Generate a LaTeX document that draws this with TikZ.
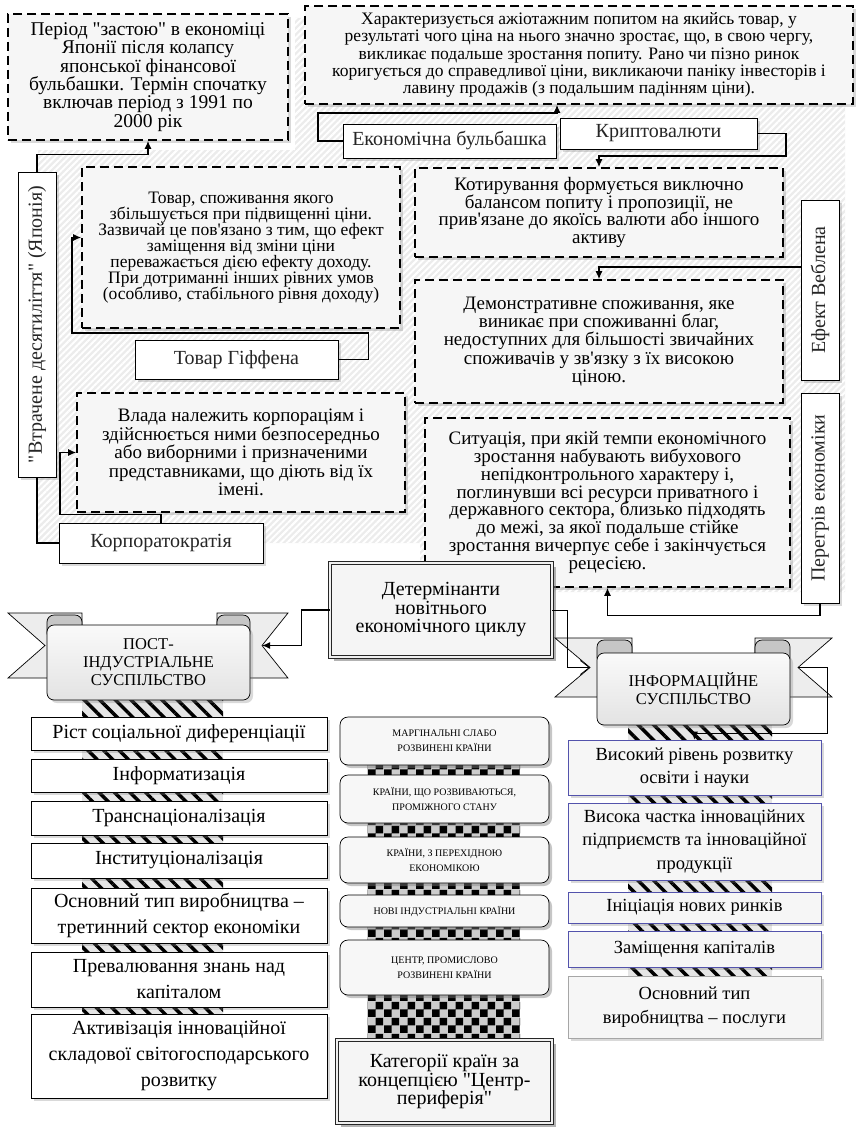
\documentclass[tikz,border=0pt]{standalone}
\usepackage{fontspec}
\setmainfont{Liberation Serif}[Ligatures=TeXOff]
\usetikzlibrary{arrows.meta,shadows,patterns,patterns.meta}
\lineskiplimit=-\maxdimen
\pgfdeclarepatternformonly{chess}{\pgfpointorigin}{\pgfqpoint{16pt}{16pt}}{\pgfqpoint{16pt}{16pt}}{%
  \pgfpathrectangle{\pgfpointorigin}{\pgfqpoint{8pt}{8pt}}%
  \pgfpathrectangle{\pgfqpoint{8pt}{8pt}}{\pgfqpoint{8pt}{8pt}}%
  \pgfusepath{fill}}

\begin{document}
\begin{tikzpicture}[x=1pt,y=-1pt,>={Latex[length=8pt,width=7pt]},
  every node/.style={align=center,inner sep=2pt},
  shd/.style={drop shadow={shadow xshift=3pt,shadow yshift=-3pt,opacity=.3}},
  dashbox/.style={draw,line width=1.6pt,dash pattern=on 9pt off 5pt,fill=gray!7,shd},
  tagbox/.style={draw,line width=.6pt,fill=white,text=black!85,shd,font=\fontsize{20}{20}\selectfont},
  vtag/.style={tagbox,rotate=90,minimum height=38pt},
  itembox/.style={draw,line width=.7pt,fill=white,minimum width=296pt,shd,font=\fontsize{20}{26}\selectfont},
  ctrybox/.style={draw,line width=.7pt,rounded corners=8pt,fill=gray!6,minimum width=209pt,
    drop shadow={shadow xshift=3pt,shadow yshift=-3pt,opacity=.45},font=\fontsize{10}{15}\selectfont},
  bluebox/.style={draw=blue!35!gray,line width=.7pt,fill=gray!7,minimum width=253pt,shd,
    font=\fontsize{18.5}{23.5}\selectfont},
  bevelbox/.style={draw=black!85,line width=.8pt,double=gray!12,double distance=2.5pt,fill=gray!8,
    drop shadow={shadow xshift=4pt,shadow yshift=-4pt,opacity=.6},font=\fontsize{20}{18.5}\selectfont},
  bandbox/.style={draw,line width=.7pt,rounded corners=7pt,top color=gray!4,bottom color=gray!22,
    shd,font=\fontsize{16.5}{18}\selectfont},
  tail/.style={draw,line width=.7pt,fill=gray!14},
  fold/.style={draw,line width=.7pt,fill=gray!45,rounded corners=7pt},
  conn/.style={line width=1.3pt},
  lconn/.style={line width=.8pt}]
\useasboundingbox (0,0) rectangle (859,1129);
\fill[gray!15,postaction={pattern={Lines[angle=45,distance=4.5pt,line width=2pt]},pattern color=white}]
  (38,150) -- (295,150) -- (295,18) -- (845,18) -- (845,592) -- (420,592) -- (420,543) -- (38,543) -- cycle;
\path[fill=gray!20,postaction={pattern={Lines[angle=-45,distance=11pt,line width=3.5pt]},pattern color=black}] (82,700) rectangle (223,1014);
\path[fill=gray!20,postaction={pattern={Lines[angle=-45,distance=11pt,line width=3.5pt]},pattern color=black}] (628,722) rectangle (772,976);
\path[fill=gray!40,postaction={pattern=chess,pattern color=black}] (367,760) rectangle (520,1040);

\node[dashbox,minimum width=280pt,minimum height=126pt,font=\fontsize{19.5}{18.3}\selectfont] (A) at (148,77)
  {Період "застою" в економіці\\Японії після колапсу\\японської фінансової\\бульбашки. Термін спочатку\\включав період з 1991 по\\2000 рік};
\node[dashbox,minimum width=548pt,minimum height=98pt,font=\fontsize{17.5}{17.2}\selectfont] (B) at (579,55)
  {Характеризується ажіотажним попитом на якийсь товар, у\\результаті чого ціна на нього значно зростає, що, в свою чергу,\\викликає подальше зростання попиту. Рано чи пізно ринок\\коригується до справедливої ціни, викликаючи паніку інвесторів і\\лавину продажів (з подальшим падінням ціни).};
\node[tagbox,minimum width=213pt,minimum height=34pt] (bubble) at (449.5,141) {Економічна бульбашка};
\node[tagbox,minimum width=197pt,minimum height=31pt] (crypto) at (658.5,133.5) {Криптовалюти};
\node[dashbox,minimum width=368pt,minimum height=89pt,font=\fontsize{19}{17.8}\selectfont] (C) at (599,212.5)
  {Котирування формується виключно\\балансом попиту і пропозиції, не\\прив'язане до якоїсь валюти або іншого\\активу};
\node[dashbox,minimum width=368pt,minimum height=123pt,font=\fontsize{19}{18.3}\selectfont] (D) at (599,341.5)
  {Демонстративне споживання, яке\\виникає при споживанні благ,\\недоступних для більшості звичайних\\споживачів у зв'язку з їх високою\\ціною.};
\node[dashbox,minimum width=365pt,minimum height=169pt,font=\fontsize{19}{17.8}\selectfont] (E) at (607.5,502.5)
  {Ситуація, при якій темпи економічного\\зростання набувають вибухового\\непідконтрольного характеру і,\\поглинувши всі ресурси приватного і\\державного сектора, близько підходять\\до межі, за якої подальше стійке\\зростання вичерпує себе і закінчується\\рецесією.};
\node[dashbox,minimum width=318pt,minimum height=161pt,font=\fontsize{17.5}{16}\selectfont] (F) at (241,247.5)
  {Товар, споживання якого\\збільшується при підвищенні ціни.\\Зазвичай це пов'язано з тим, що ефект\\заміщення від зміни ціни\\переважається дією ефекту доходу.\\При дотриманні інших рівних умов\\(особливо, стабільного рівня доходу)};
\node[tagbox,minimum width=203pt,minimum height=39pt] (giffen) at (236.5,359.5) {Товар Гіффена};
\node[dashbox,minimum width=328pt,minimum height=119pt,font=\fontsize{19}{18.5}\selectfont] (G) at (241,452.5)
  {Влада належить корпораціям і\\здійснюється ними безпосередньо\\або виборними і призначеними\\представниками, що діють від їх\\імені.};
\node[tagbox,minimum width=204pt,minimum height=40pt] (korp) at (161,543) {Корпоратократія};
\node[vtag,minimum width=305pt] (japan) at (37,324.5) {"Втрачене десятиліття" (Японія)};
\node[vtag,minimum width=180pt] (veblen) at (820,290) {Ефект Веблена};
\node[vtag,minimum width=210pt] (over) at (820,498) {Перегрів економіки};
\node[bevelbox,minimum width=222pt,minimum height=94pt] (det) at (441,610) {Детермінанти\\новітнього\\економічного циклу};

\draw[tail] (8,613) -- (82,613) -- (82,678) -- (8,678) -- (45,645.5) -- cycle;
\draw[tail] (217,613) -- (288,613) -- (262,645.5) -- (288,678) -- (217,678) -- cycle;
\draw[fold] (82,640) -- (47,640) -- (47,615) -- (82,615) -- cycle;
\draw[fold] (217,640) -- (217,615) -- (250,615) -- (250,640) -- cycle;
\node[bandbox,minimum width=203pt,minimum height=75pt] (post) at (148.5,662.5) {ПОСТ-\\ІНДУСТРІАЛЬНЕ\\СУСПІЛЬСТВО};
\coordinate (pnotch) at (262,645.5);
\draw[tail] (555,638) -- (632,638) -- (632,697) -- (555,697) -- (590,667.5) -- cycle;
\draw[tail] (755,638) -- (832,638) -- (798,667.5) -- (832,697) -- (755,697) -- cycle;
\draw[fold] (632,665) -- (597,665) -- (597,640) -- (632,640) -- cycle;
\draw[fold] (755,665) -- (755,640) -- (790,640) -- (790,665) -- cycle;
\node[bandbox,minimum width=193pt,minimum height=72pt] (info) at (693.5,689) {ІНФОРМАЦІЙНЕ\\СУСПІЛЬСТВО};
\coordinate (inotchL) at (590,667.5);
\coordinate (inotchR) at (798,667.5);

\node[itembox,minimum height=33pt] (l1) at (179,733.5) {Ріст соціальної диференціації};
\node[itembox,minimum height=33pt] (l2) at (179,775.5) {Інформатизація};
\node[itembox,minimum height=34pt] (l3) at (179,818) {Транснаціоналізація};
\node[itembox,minimum height=35pt] (l4) at (179,860.5) {Інституціоналізація};
\node[itembox,minimum height=55pt] (l5) at (179,915.5) {Основний тип виробництва –\\третинний сектор економіки};
\node[itembox,minimum height=55pt] (l6) at (179,979.5) {Превалювання знань над\\капіталом};
\node[itembox,minimum height=84pt] (l7) at (179,1056) {Активізація інноваційної\\складової світогосподарського\\розвитку};

\node[ctrybox,minimum height=48pt] (m1) at (444.5,741) {МАРГІНАЛЬНІ СЛАБО\\РОЗВИНЕНІ КРАЇНИ};
\node[ctrybox,minimum height=48pt] (m2) at (444.5,799) {КРАЇНИ, ЩО РОЗВИВАЮТЬСЯ,\\ПРОМІЖНОГО СТАНУ};
\node[ctrybox,minimum height=46pt] (m3) at (444.5,860) {КРАЇНИ, З ПЕРЕХІДНОЮ\\ЕКОНОМІКОЮ};
\node[ctrybox,minimum height=32pt] (m4) at (444.5,911) {НОВІ ІНДУСТРІАЛЬНІ КРАЇНИ};
\node[ctrybox,minimum height=55pt] (m5) at (444.5,967.5) {ЦЕНТР, ПРОМИСЛОВО\\РОЗВИНЕНІ КРАЇНИ};
\node[bevelbox,minimum width=215pt,minimum height=83pt] (cat) at (444.5,1081.5) {Категорії країн за\\концепцією "Центр-\\периферія"};

\node[bluebox,minimum height=55pt] (r1) at (694.5,767.5) {Високий рівень розвитку\\освіти і науки};
\node[bluebox,minimum height=77pt] (r2) at (694.5,841.5) {Висока частка інноваційних\\підприємств та інноваційної\\продукції};
\node[bluebox,minimum height=31pt] (r3) at (694.5,907.5) {Ініціація нових ринків};
\node[bluebox,minimum height=36pt] (r4) at (694.5,949) {Заміщення капіталів};
\node[bluebox,draw=gray!70,minimum height=62pt] (r5) at (694.5,1007) {Основний тип\\виробництва – послуги};

\draw[conn,->] (japan.east) -- ++(0,-17) -| (A.south);
\draw[conn] (japan.west) |- (korp.west);
\draw[conn,->] (giffen.east) -- ++(30,0) |- (72,333) |- ([yshift=10pt]F.west);
\draw[conn,->] (korp.north) -- ++(0,-8) -| (60,480) |- (G.west);
\draw[conn,->] (bubble.west) -| (318,113) -| ([xshift=-22pt]B.south);
\draw[conn,->] (crypto.east) -| (786,156) -| (C.north);
\draw[conn,->] ([yshift=23pt]veblen.north) -| (D.north);
\draw[conn,->] (over.west) -- ++(0,12) -| (E.south);
\draw[conn,->] (det.west) -- ++(-28,0) |- (pnotch);
\draw[lconn,-{Straight Barb[length=9pt,width=14pt]}] (det.east) -- ++(15,0) |- (inotchL);
\draw[lconn,->] (inotchR) -| (827,733) -| (r1.north);
\end{tikzpicture}
\end{document}
